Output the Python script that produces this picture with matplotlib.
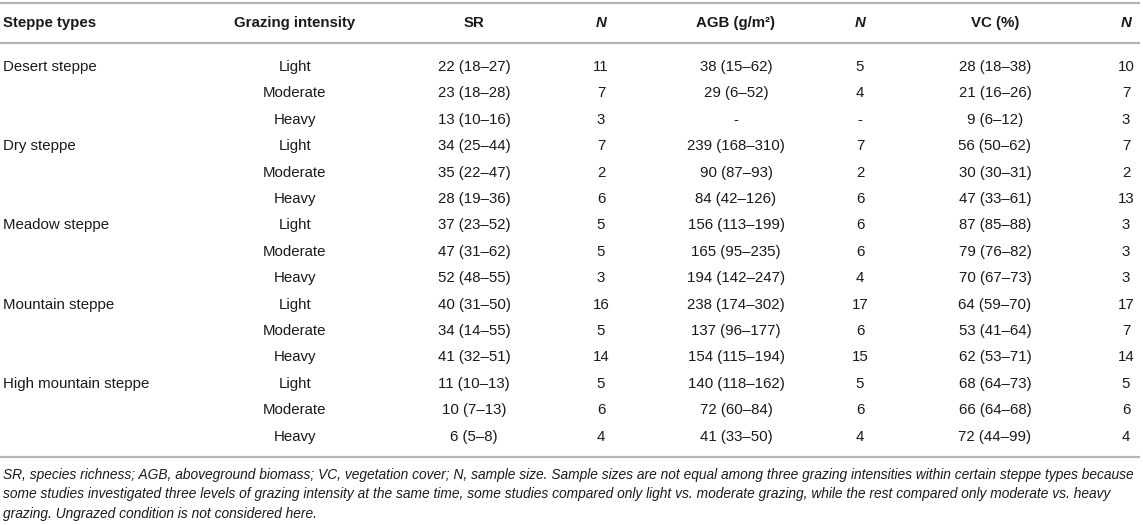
import matplotlib
matplotlib.use("Agg")
import matplotlib.pyplot as plt

# table content
steppe_types = ["Desert steppe", "Dry steppe", "Meadow steppe", "Mountain steppe", "High mountain steppe"]
intensities = ["Light", "Moderate", "Heavy"]

sr = ["22 (18–27)", "23 (18–28)", "13 (10–16)",
      "34 (25–44)", "35 (22–47)", "28 (19–36)",
      "37 (23–52)", "47 (31–62)", "52 (48–55)",
      "40 (31–50)", "34 (14–55)", "41 (32–51)",
      "11 (10–13)", "10 (7–13)", "6 (5–8)"]
sr_n = [11, 7, 3, 7, 2, 6, 5, 5, 3, 16, 5, 14, 5, 6, 4]

agb = ["38 (15–62)", "29 (6–52)", "-",
       "239 (168–310)", "90 (87–93)", "84 (42–126)",
       "156 (113–199)", "165 (95–235)", "194 (142–247)",
       "238 (174–302)", "137 (96–177)", "154 (115–194)",
       "140 (118–162)", "72 (60–84)", "41 (33–50)"]
agb_n = [5, 4, "-", 7, 2, 6, 6, 6, 4, 17, 6, 15, 5, 6, 4]

vc = ["28 (18–38)", "21 (16–26)", "9 (6–12)",
      "56 (50–62)", "30 (30–31)", "47 (33–61)",
      "87 (85–88)", "79 (76–82)", "70 (67–73)",
      "64 (59–70)", "53 (41–64)", "62 (53–71)",
      "68 (64–73)", "66 (64–68)", "72 (44–99)"]
vc_n = [10, 7, 3, 7, 2, 13, 3, 3, 3, 17, 7, 14, 5, 6, 4]

headers = ["Steppe types", "Grazing intensity", "SR", "N", "AGB (g/m²)", "N", "VC (%)", "N"]

footnote = ["SR, species richness; AGB, aboveground biomass; VC, vegetation cover; N, sample size. "
            "Sample sizes are not equal among three grazing intensities within certain steppe types because",
            "some studies investigated three levels of grazing intensity at the same time, some studies "
            "compared only light vs. moderate grazing, while the rest compared only moderate vs. heavy",
            "grazing. Ungrazed condition is not considered here."]

plt.rcParams["font.family"] = ["Liberation Sans", "DejaVu Sans"]
W, H = 1143, 525
fig = plt.figure(figsize=(W / 100, H / 100), dpi=100)
ax = fig.add_axes([0, 0, 1, 1])
ax.set_xlim(0, W)
ax.set_ylim(H, 0)
ax.axis("off")

txt = "#1a1a1a"
rule = "#b4b4b4"
fs = 10.8

col_x = [3, 295, 474, 601, 736, 860, 995, 1126]
header_y = 23
row_y0, row_h = 67, 26.4

for i, h in enumerate(headers):
    ha = "left" if i == 0 else "center"
    style = "italic" if h == "N" else "normal"
    ax.text(col_x[i], header_y, h, ha=ha, va="center", fontsize=fs,
            fontweight="bold", fontstyle=style, color=txt)

for r in range(len(sr)):
    y = row_y0 + r * row_h
    if r % 3 == 0:
        ax.text(col_x[0], y, steppe_types[r // 3], ha="left", va="center", fontsize=fs, color=txt)
    cells = [intensities[r % 3], sr[r], sr_n[r], agb[r], agb_n[r], vc[r], vc_n[r]]
    for c, val in enumerate(cells):
        ax.text(col_x[c + 1], y, str(val), ha="center", va="center", fontsize=fs, color=txt)

for y in [3, 43, 457]:
    ax.hlines(y, 0, 1140, color=rule, linewidth=1.6)

for k, line in enumerate(footnote):
    ax.text(3, 475 + k * 19.3, line, ha="left", va="center", fontsize=9.95,
            fontstyle="italic", color=txt)

fig.savefig("out.png", dpi=100)
